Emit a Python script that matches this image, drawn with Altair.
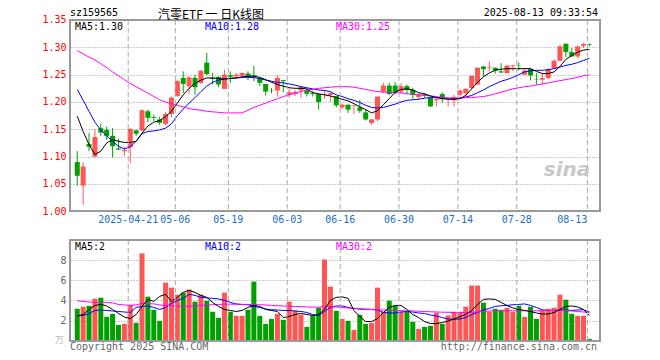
import altair as alt
import pandas as pd

# ---------------- data ----------------
open_ = [1.090,1.047,1.123,1.100,1.152,1.149,1.138,1.115,1.110,1.117,
         1.148,1.148,1.183,1.1725,1.168,1.160,1.178,1.211,1.244,1.229,
         1.244,1.235,1.272,1.244,1.246,1.224,1.249,1.247,1.248,1.252,
         1.249,1.244,1.233,1.221,1.221,1.240,1.213,1.2145,1.221,1.221,
         1.216,1.2145,1.2133,1.213,1.211,1.190,1.195,1.193,1.190,1.181,
         1.1615,1.168,1.219,1.230,1.230,1.219,1.229,1.222,1.209,1.214,
         1.2084,1.203,1.2145,1.2036,1.203,1.2133,1.2163,1.2255,1.232,1.265,
         1.2627,1.2627,1.256,1.253,1.2652,1.2676,1.250,1.2602,1.242,1.2407,
         1.2438,1.2621,1.2755,1.3066,1.2914,1.2834,1.3029,1.306]
close_ = [1.065,1.082,1.118,1.136,1.144,1.138,1.119,1.113,1.112,1.151,
          1.142,1.185,1.171,1.171,1.162,1.178,1.208,1.238,1.233,1.245,
          1.227,1.257,1.251,1.242,1.232,1.250,1.246,1.250,1.253,1.246,
          1.247,1.235,1.219,1.2205,1.244,1.238,1.218,1.218,1.227,1.215,
          1.2145,1.200,1.2145,1.216,1.194,1.195,1.186,1.194,1.184,1.168,
          1.168,1.210,1.230,1.2145,1.218,1.229,1.222,1.213,1.214,1.212,
          1.192,1.205,1.2053,1.2042,1.209,1.2212,1.2243,1.248,1.2627,1.260,
          1.2639,1.2578,1.254,1.2664,1.267,1.267,1.2577,1.2486,1.2413,1.2438,
          1.2602,1.2755,1.3017,1.2914,1.2834,1.3017,1.306,1.3048]
high = [1.110,1.090,1.143,1.150,1.160,1.155,1.152,1.132,1.118,1.151,
        1.149,1.186,1.186,1.177,1.173,1.182,1.210,1.241,1.256,1.247,
        1.250,1.259,1.290,1.253,1.247,1.259,1.256,1.253,1.254,1.256,
        1.266,1.244,1.233,1.2255,1.249,1.240,1.224,1.222,1.2285,1.224,
        1.2206,1.2145,1.2206,1.219,1.211,1.196,1.195,1.194,1.204,1.186,
        1.169,1.210,1.235,1.235,1.236,1.234,1.232,1.226,1.216,1.216,
        1.2084,1.207,1.2175,1.207,1.213,1.2212,1.2243,1.248,1.2627,1.265,
        1.2742,1.2627,1.271,1.268,1.268,1.2725,1.262,1.262,1.2529,1.2529,
        1.262,1.278,1.3048,1.3066,1.2987,1.3029,1.3078,1.3066]
low = [1.047,1.012,1.110,1.099,1.138,1.131,1.099,1.112,1.102,1.088,
       1.138,1.146,1.163,1.165,1.158,1.157,1.172,1.209,1.216,1.216,
       1.213,1.233,1.249,1.232,1.227,1.224,1.235,1.242,1.245,1.240,
       1.238,1.229,1.212,1.216,1.210,1.218,1.208,1.211,1.208,1.210,
       1.210,1.186,1.206,1.200,1.190,1.187,1.180,1.178,1.180,1.166,
       1.158,1.165,1.216,1.213,1.2145,1.215,1.2145,1.206,1.204,1.208,
       1.1907,1.192,1.1993,1.192,1.192,1.210,1.210,1.2237,1.231,1.2474,
       1.256,1.2517,1.253,1.2517,1.2566,1.2578,1.250,1.2395,1.2316,1.2316,
       1.242,1.2615,1.2743,1.2822,1.2822,1.2804,1.2987,1.3017]
ma5 = [1.174,1.146,1.122,1.104,1.110,1.125,1.131,1.128,1.126,1.126,
       1.128,1.143,1.156,1.163,1.166,1.173,1.183,1.198,1.213,1.225,
       1.234,1.240,1.244,1.244,1.243,1.242,1.243,1.244,1.246,1.247,
       1.247,1.245,1.241,1.236,1.232,1.229,1.226,1.225,1.225,1.224,
       1.217,1.215,1.213,1.211,1.208,1.205,1.202,1.197,1.191,1.186,
       1.180,1.184,1.195,1.206,1.218,1.223,1.224,1.222,1.217,1.215,
       1.211,1.208,1.206,1.205,1.205,1.206,1.212,1.224,1.236,1.246,
       1.253,1.258,1.260,1.261,1.261,1.261,1.261,1.261,1.256,1.252,
       1.252,1.255,1.265,1.278,1.285,1.291,1.295,1.296]
ma10 = [1.223,1.203,1.183,1.163,1.149,1.138,1.128,1.119,1.114,1.118,
        1.128,1.142,1.146,1.147,1.149,1.152,1.160,1.175,1.187,1.198,
        1.208,1.219,1.229,1.236,1.240,1.242,1.243,1.244,1.245,1.245,
        1.2445,1.243,1.240,1.238,1.236,1.235,1.233,1.231,1.228,1.226,
        1.224,1.222,1.221,1.219,1.213,1.210,1.206,1.203,1.199,1.194,
        1.190,1.189,1.190,1.193,1.196,1.200,1.203,1.204,1.205,1.207,
        1.208,1.208,1.208,1.207,1.206,1.207,1.209,1.212,1.217,1.222,
        1.228,1.233,1.238,1.241,1.245,1.250,1.255,1.257,1.258,1.258,
        1.259,1.261,1.264,1.267,1.269,1.272,1.276,1.280]
ma30 = [1.294,1.288,1.282,1.277,1.270,1.263,1.255,1.248,1.241,1.234,
        1.228,1.222,1.216,1.210,1.204,1.200,1.197,1.194,1.191,1.188,
        1.186,1.185,1.183,1.182,1.181,1.180,1.180,1.180,1.180,1.185,
        1.190,1.194,1.198,1.202,1.206,1.210,1.213,1.216,1.219,1.222,
        1.223,1.225,1.226,1.227,1.228,1.228,1.228,1.227,1.225,1.223,
        1.221,1.219,1.218,1.218,1.217,1.217,1.215,1.214,1.213,1.212,
        1.211,1.210,1.208,1.207,1.207,1.207,1.208,1.208,1.209,1.210,
        1.212,1.215,1.218,1.221,1.224,1.226,1.228,1.229,1.231,1.233,
        1.235,1.237,1.239,1.241,1.243,1.245,1.248,1.250]
volume = [3.17,3.37,3.47,4.17,4.27,2.37,2.67,1.57,1.67,3.57,
          1.77,8.67,4.37,3.07,1.97,5.77,5.27,4.57,4.77,5.07,
          3.87,4.57,3.97,2.87,2.27,4.77,2.87,2.47,2.47,3.07,
          5.87,2.47,1.67,2.17,2.67,2.07,3.87,2.97,2.57,1.37,
          2.47,3.27,8.07,5.37,2.97,2.17,1.97,1.07,2.57,1.67,
          1.77,5.27,2.87,3.97,3.47,2.87,2.87,1.87,1.17,1.37,
          1.47,2.77,1.67,2.50,2.87,2.87,3.37,5.47,5.47,3.77,
          2.87,3.17,3.07,3.27,2.87,3.47,2.37,3.37,2.17,2.97,
          3.17,3.27,4.57,4.07,2.67,2.47,2.47,0.17]
vma5 = [2.45,2.6,3.1,3.5,3.6,3.45,3.1,2.7,2.35,2.2,
        2.6,3.4,4.1,3.9,4.4,4.6,3.9,4.3,4.8,5.0,
        4.8,4.5,4.3,3.8,3.4,3.1,3.0,2.9,3.0,3.3,
        3.5,3.4,3.1,3.0,2.9,2.3,2.4,2.6,2.7,2.6,
        2.5,2.6,3.1,4.0,4.3,4.35,4.2,3.0,2.4,1.9,
        1.9,2.2,2.8,3.3,3.5,3.5,3.1,2.6,2.3,1.9,
        1.7,1.7,1.8,1.95,2.15,2.4,2.6,3.0,3.6,4.1,
        4.15,4.1,3.8,3.5,3.25,3.1,3.0,2.9,2.75,2.65,
        2.65,2.8,3.1,3.4,3.45,3.35,3.1,2.5]
vma10 = [2.47,2.5,2.7,3.0,3.05,3.0,2.95,2.9,2.85,2.8,
         3.3,3.4,3.45,3.3,3.1,3.3,3.7,4.0,4.2,4.6,
         4.5,4.3,4.25,4.2,4.15,4.0,3.8,3.65,3.6,3.57,
         3.4,3.3,3.15,3.07,3.05,3.0,3.0,2.95,2.9,2.8,
         2.6,2.5,2.9,3.3,3.45,3.45,3.3,3.2,3.13,3.13,
         3.1,3.05,2.8,2.75,2.75,2.85,2.9,2.85,2.75,2.7,
         2.55,2.45,2.3,2.15,2.13,2.15,2.3,2.6,2.8,3.05,
         3.2,3.4,3.47,3.5,3.57,3.6,3.65,3.5,3.3,3.07,
         3.0,3.0,3.05,3.05,3.0,3.05,3.07,2.85]
vma30 = [3.97,3.9,3.83,3.8,3.8,3.8,3.75,3.6,3.55,3.5,
         3.55,3.7,3.68,3.65,3.55,3.5,3.47,3.45,3.42,3.42,
         3.45,3.5,3.55,3.57,3.6,3.62,3.63,3.62,3.6,3.6,
         3.58,3.57,3.55,3.5,3.47,3.45,3.42,3.4,3.38,3.35,
         3.33,3.33,3.4,3.38,3.35,3.3,3.25,3.22,3.18,3.12,
         3.1,3.07,3.05,3.03,3.0,2.98,2.97,2.95,2.92,2.9,
         2.87,2.85,2.83,2.82,2.8,2.8,2.8,2.82,2.85,2.9,
         2.95,2.97,2.97,2.97,2.97,2.97,2.97,2.97,2.97,2.98,
         3.0,3.0,3.0,2.98,2.95,2.9,2.85,2.8]
tick_idx = [9, 17, 26, 36, 45, 55, 65, 75, 87]
tick_labels = ["2025-04-21", "05-06", "05-19", "06-03", "06-16",
               "06-30", "07-14", "07-28", "08-13"]
price_ticks = [1.00, 1.05, 1.10, 1.15, 1.20, 1.25, 1.30, 1.35]
vol_ticks = [2, 4, 6, 8]

# ---------------- frames ----------------
n = len(open_)
RED, GREEN = "#FF5555", "#00A000"
df = pd.DataFrame({
    "i": list(range(n)), "open": open_, "close": close_, "high": high, "low": low,
    "vol": volume, "ma5": ma5, "ma10": ma10, "ma30": ma30,
    "vma5": vma5, "vma10": vma10, "vma30": vma30,
})
df["col"] = [RED if c >= o else GREEN for o, c in zip(open_, close_)]
ticks = pd.DataFrame({"i": tick_idx, "label": tick_labels})

W, PH, TOP_V, H = 530, 191.3, 220, 320.7
FONT = "DejaVu Sans Mono"

xs = alt.Scale(domain=[-0.383, 87.95], nice=False, zero=False)
X = alt.X("i:Q", scale=xs, axis=None)
ys_p = alt.Scale(domain=[1.0, 1.35], range=[PH, 0], nice=False, zero=False)
ys_v = alt.Scale(domain=[0, 10], range=[H, TOP_V], nice=False, zero=False)

base = alt.Chart(df)

# price panel
p_axis = alt.Axis(values=price_ticks, format=".2f", labelColor="#FF0000", orient="left",
                  labelFont=FONT, labelFontSize=10, labelPadding=4,
                  grid=True, gridColor="#999999", gridDash=[1, 2],
                  domain=False, ticks=False, title=None)
wick = base.mark_rule(strokeWidth=1).encode(
    x=X, y=alt.Y("low:Q", scale=ys_p, axis=p_axis), y2="high:Q",
    color=alt.Color("col:N", scale=None))
body = base.mark_bar(size=5).encode(
    x=X, y=alt.Y("open:Q", scale=ys_p), y2="close:Q",
    color=alt.Color("col:N", scale=None))
l5 = base.mark_line(color="#000000", strokeWidth=1).encode(x=X, y=alt.Y("ma5:Q", scale=ys_p))
l10 = base.mark_line(color="#0000FF", strokeWidth=1).encode(x=X, y=alt.Y("ma10:Q", scale=ys_p))
l30 = base.mark_line(color="#FF00FF", strokeWidth=1).encode(x=X, y=alt.Y("ma30:Q", scale=ys_p))
price = alt.layer(wick, body, l10, l30, l5)

# volume panel
v_axis = alt.Axis(values=vol_ticks, labelColor="#666666", labelFont=FONT, orient="left",
                  labelFontSize=10, labelPadding=4,
                  grid=True, gridColor="#999999", gridDash=[1, 2],
                  domain=False, ticks=False, title=None)
vbar = base.mark_bar(size=5).encode(
    x=X, y=alt.Y("vol:Q", scale=ys_v, axis=v_axis), y2=alt.datum(0),
    color=alt.Color("col:N", scale=None))
v5 = base.mark_line(color="#000000", strokeWidth=1).encode(x=X, y=alt.Y("vma5:Q", scale=ys_v))
v10 = base.mark_line(color="#0000FF", strokeWidth=1).encode(x=X, y=alt.Y("vma10:Q", scale=ys_v))
v30 = base.mark_line(color="#FF00FF", strokeWidth=1).encode(x=X, y=alt.Y("vma30:Q", scale=ys_v))
vol = alt.layer(vbar, v10, v30, v5)

# vertical dashed date grid + date labels
tb = alt.Chart(ticks)
vgrid_p = tb.mark_rule(color="#AAAAAA", strokeDash=[5, 3], xOffset=-2).encode(
    x=alt.X("i:Q", scale=xs, axis=None), y=alt.value(0), y2=alt.value(PH))
vgrid_v = tb.mark_rule(color="#AAAAAA", strokeDash=[5, 3], xOffset=-2).encode(
    x=alt.X("i:Q", scale=xs, axis=None), y=alt.value(TOP_V), y2=alt.value(H))
dlab = tb.transform_filter(alt.datum.i < 80).mark_text(
    font=FONT, fontSize=10, color="#1E6EC8", baseline="middle", dx=-2).encode(
    x=alt.X("i:Q", scale=xs, axis=None), y=alt.value(PH + 9), text="label:N")
dlab_last = tb.transform_filter(alt.datum.i >= 80).mark_text(
    font=FONT, fontSize=10, color="#1E6EC8", baseline="middle", align="right", dx=-2).encode(
    x=alt.X("i:Q", scale=xs, axis=None), y=alt.value(PH + 9), text="label:N")

# frames
frame_p = alt.Chart(df).mark_rect(fillOpacity=0, stroke="#999999", strokeWidth=1.5).encode(
    x=alt.value(0), x2=alt.value(W), y=alt.value(0), y2=alt.value(PH))
frame_v = alt.Chart(df).mark_rect(fillOpacity=0, stroke="#999999", strokeWidth=1.5).encode(
    x=alt.value(0), x2=alt.value(W), y=alt.value(TOP_V), y2=alt.value(H))

def txt(s, x, y, color="#000000", align="left", size=10, font=FONT, baseline="middle", **kw):
    return alt.Chart(pd.DataFrame({"t": [s]})).mark_text(
        align=align, baseline=baseline, font=font, fontSize=size, color=color, **kw
    ).encode(x=alt.value(x), y=alt.value(y), text="t:N")

texts = [
    txt("sz159565", 0, -7),
    txt("汽零ETF 一 日K线图", 141, -4.5, align="center", size=12,
        font="Noto Sans CJK SC"),
    txt("2025-08-13 09:33:54", 528, -7, align="right"),
    txt("MA5:1.30", 5, 7),
    txt("MA10:1.28", 135, 7, color="#0000FF"),
    txt("MA30:1.25", 266, 7, color="#FF00FF"),
    txt("MA5:2", 5, 227),
    txt("MA10:2", 135, 227, color="#0000FF"),
    txt("MA30:2", 266, 227, color="#FF00FF"),
    txt("Copyright 2025 SINA.COM", 0, 327, color="#666666"),
    txt("http://finance.sina.com.cn", 527, 327, color="#666666", align="right"),
    txt("万", -6, 320, color="#BBBBBB", align="right", size=9, font="Noto Sans CJK SC"),
    txt("sina", 497, 150, color="#C8C8C8", align="center", size=20,
        font="DejaVu Sans", fontStyle="italic", fontWeight="bold"),
]

chart = alt.layer(
    price, vol, vgrid_p, vgrid_v, frame_p, frame_v, dlab, dlab_last, *texts
).resolve_scale(y="independent").properties(
    width=W, height=H,
    autosize=alt.AutoSizeParams(type="none"),
    padding={"left": 62, "top": 12, "right": 52, "bottom": 12},
).configure_view(stroke=None)

chart.save("out.html", embed_options={"renderer": "svg", "actions": False})
